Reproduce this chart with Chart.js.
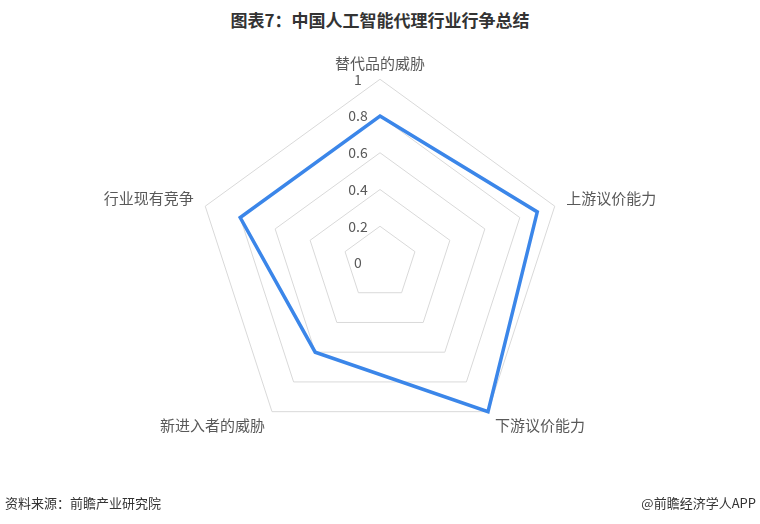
<!DOCTYPE html>
<html>
<head>
<meta charset="utf-8">
<script src="https://cdn.jsdelivr.net/npm/chart.js@4.4.1/dist/chart.umd.min.js"></script>
<style>
  html, body { margin: 0; padding: 0; background: #fff; }
  body { width: 760px; height: 524px; position: relative; overflow: hidden;
         font-family: "Noto Sans CJK SC", "Noto Sans", sans-serif; }
  #title { position: absolute; top: 7px; left: 0; width: 760px; text-align: center;
           font-size: 17px; font-weight: bold; color: #333; }
  #wrap { position: absolute; left: 0; top: 0; width: 760px; height: 524px; }
  .foot { position: absolute; top: 493px; font-size: 13px; color: #333; }
</style>
</head>
<body>
<div id="title">图表7：中国人工智能代理行业行争总结</div>
<div id="wrap"><canvas id="chart"></canvas></div>
<div class="foot" style="left:5px">资料来源：前瞻产业研究院</div>
<div class="foot" style="right:4px">@前瞻经济学人APP</div>
<script>
const categories = ['替代品的威胁', '上游议价能力', '下游议价能力', '新进入者的威胁', '行业现有竞争'];
const seriesValues = [0.8, 0.9, 1.0, 0.6, 0.8];
const tickValues = [0, 0.2, 0.4, 0.6, 0.8, 1];

// tick labels sit left of the vertical axis, like the Excel original
const tickLabelPlugin = {
  id: 'tickLabels',
  beforeDatasetsDraw(chart) {
    const scale = chart.scales.r;
    const ctx = chart.ctx;
    ctx.save();
    ctx.font = '14px "Noto Sans CJK SC", "Noto Sans", sans-serif';
    ctx.fillStyle = '#595959';
    ctx.textAlign = 'center';
    ctx.textBaseline = 'middle';
    tickValues.forEach(v => {
      const d = scale.getDistanceFromCenterForValue(v);
      ctx.fillText(String(v), scale.xCenter - 22, scale.yCenter - d);
    });
    ctx.restore();
  }
};

new Chart(document.getElementById('chart'), {
  type: 'radar',
  data: {
    labels: categories,
    datasets: [{
      data: seriesValues,
      borderColor: '#3b86e9',
      borderWidth: 3.5,
      backgroundColor: 'rgba(0,0,0,0)',
      fill: false,
      pointRadius: 0,
      pointHoverRadius: 0,
      borderJoinStyle: 'miter'
    }]
  },
  options: {
    responsive: true,
    maintainAspectRatio: false,
    animation: false,
    layout: { padding: { top: 49, bottom: 67, left: 0, right: 0 } },
    plugins: {
      legend: { display: false },
      tooltip: { enabled: false }
    },
    scales: {
      r: {
        min: 0,
        max: 1,
        ticks: { display: false, stepSize: 0.2 },
        grid: { color: '#d9d9d9', lineWidth: 1 },
        angleLines: { display: false },
        pointLabels: {
          padding: 12,
          color: '#595959',
          font: { size: 15, lineHeight: 0.55, family: '"Noto Sans CJK SC", "Noto Sans", sans-serif' }
        }
      }
    }
  },
  plugins: [tickLabelPlugin]
});
</script>
</body>
</html>
